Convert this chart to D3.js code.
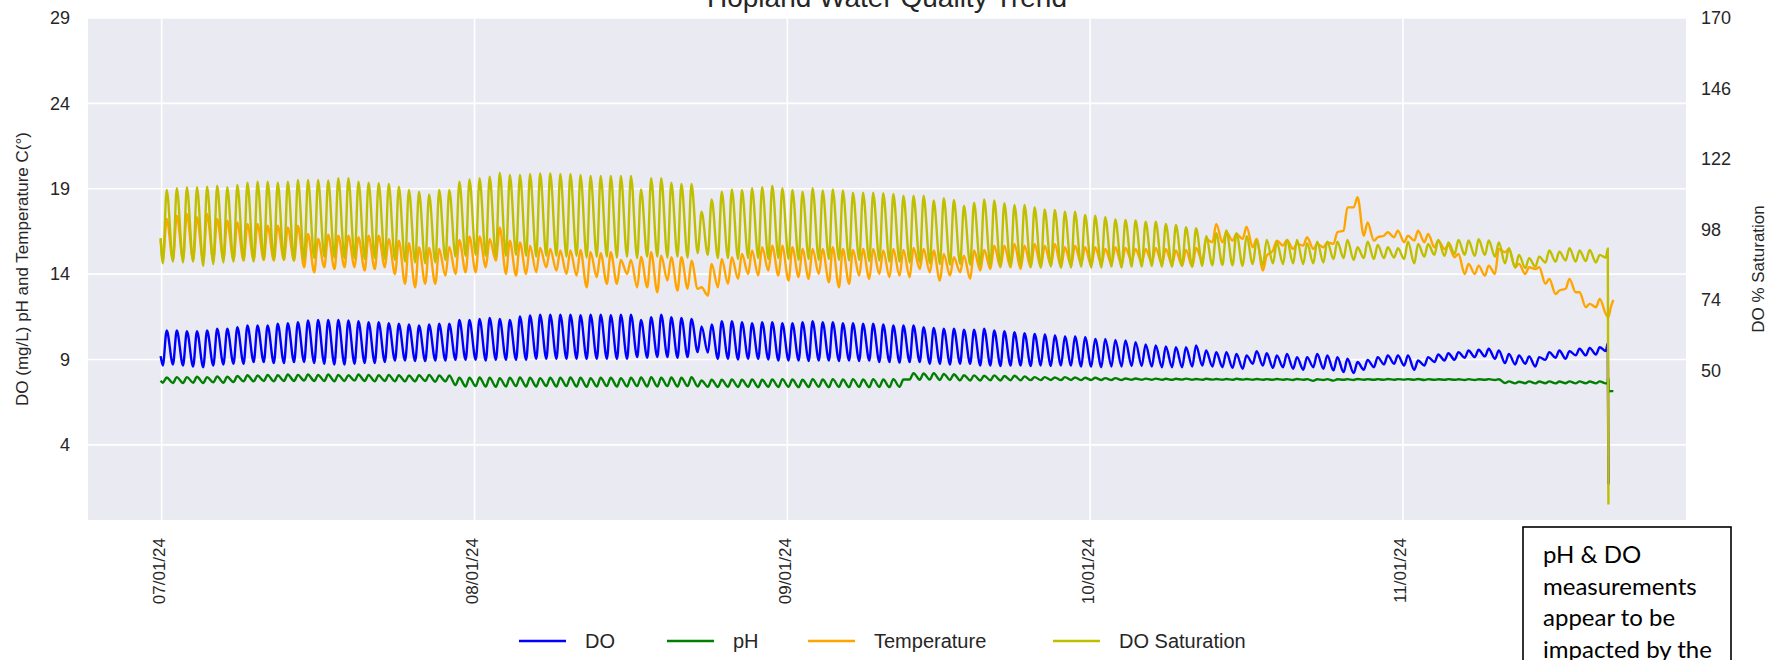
<!DOCTYPE html>
<html>
<head>
<meta charset="utf-8">
<script src="https://cdn.jsdelivr.net/npm/d3@7"></script>
<style>
  body { margin: 0; background: #fff; }
  svg { display: block; font-family: "Liberation Sans", Arial, sans-serif; }
</style>
</head>
<body>
<div id="chart"></div>
<script>
// ---- data (one low and one high per day from 07/01/24) ----
var startDate = Date.UTC(2024, 6, 1);

var doHigh = [
  10.70, 10.70, 10.66, 10.66, 10.70, 10.80, 10.80, 10.89, 10.99, 10.99,
  10.99, 11.09, 11.13, 11.19, 11.28, 11.32, 11.32, 11.32, 11.28, 11.24,
  11.19, 11.19, 11.13, 11.09, 11.05, 10.99, 11.05, 11.09, 11.09, 11.32,
  11.32, 11.38, 11.44, 11.38, 11.32, 11.52, 11.58, 11.63, 11.63, 11.63,
  11.63, 11.60, 11.63, 11.63, 11.60, 11.63, 11.63, 11.32, 11.48, 11.63,
  11.48, 11.44, 11.38, 10.93, 11.05, 11.24, 11.24, 11.19, 11.13, 11.19,
  11.19, 11.13, 11.13, 11.19, 11.24, 11.19, 11.19, 11.13, 11.13, 11.09,
  11.09, 11.05, 10.99, 10.99, 10.99, 10.89, 10.85, 10.80, 10.80, 10.74,
  10.74, 10.80, 10.70, 10.66, 10.60, 10.54, 10.50, 10.46, 10.41, 10.35,
  10.35, 10.31, 10.21, 10.21, 10.15, 10.11, 10.02, 9.88, 9.82, 9.76,
  9.72, 9.72, 9.82, 9.53, 9.43, 9.43, 9.33, 9.24, 9.49, 9.37,
  9.24, 9.33, 9.14, 9.14, 9.33, 9.24, 9.14, 9.04, 8.85, 8.98,
  9.14, 9.24, 9.24, 9.24, 8.94, 9.14, 9.29, 9.37, 9.43, 9.53,
  9.57, 9.63, 9.53, 9.33, 9.24, 9.18, 9.14, 9.43, 9.53, 9.49,
  9.63, 9.68, 9.72
];
var doLow = [
  8.65, 8.71, 8.65, 8.59, 8.55, 8.65, 8.71, 8.75, 8.75, 8.85,
  8.85, 8.79, 8.79, 8.85, 8.85, 8.79, 8.75, 8.71, 8.71, 8.75,
  8.79, 8.79, 8.85, 8.94, 8.94, 8.91, 8.91, 8.94, 8.94, 8.98,
  8.98, 8.98, 8.94, 8.98, 8.98, 8.98, 8.98, 9.04, 9.04, 9.04,
  9.04, 9.04, 9.04, 9.04, 9.04, 9.04, 9.04, 9.14, 9.10, 9.14,
  9.14, 9.10, 9.14, 9.43, 9.40, 9.04, 9.04, 9.00, 9.04, 9.04,
  9.00, 8.94, 8.94, 8.94, 8.91, 8.94, 8.94, 8.91, 8.94, 8.91,
  8.94, 8.85, 8.85, 8.82, 8.85, 8.85, 8.75, 8.75, 8.71, 8.75,
  8.75, 8.65, 8.65, 8.62, 8.65, 8.65, 8.62, 8.65, 8.62, 8.65,
  8.65, 8.59, 8.59, 8.55, 8.59, 8.59, 8.62, 8.62, 8.59, 8.55,
  8.55, 8.55, 8.59, 8.65, 8.59, 8.55, 8.51, 8.46, 8.75, 8.65,
  8.51, 8.55, 8.46, 8.40, 8.55, 8.46, 8.36, 8.26, 8.20, 8.40,
  8.55, 8.71, 8.75, 8.65, 8.40, 8.65, 8.85, 8.94, 8.98, 9.10,
  9.14, 9.18, 9.04, 8.79, 8.71, 8.75, 8.59, 8.98, 9.10, 9.04,
  9.24, 9.24, 9.29
];
var doHead = [[-0.1, 9.2]];
var doTail = [[143.1, 9.5], [143.3, 9.95], [143.36, 1.7]];

var phHigh = [
  7.95, 7.97, 7.97, 7.99, 7.97, 8.01, 7.99, 8.03, 8.08, 8.06,
  8.10, 8.08, 8.12, 8.10, 8.12, 8.10, 8.12, 8.10, 8.08, 8.12,
  8.10, 8.08, 8.10, 8.08, 8.06, 8.08, 8.10, 8.06, 8.06, 7.93,
  7.93, 7.95, 7.93, 7.91, 7.93, 7.95, 7.93, 7.91, 7.93, 7.93,
  7.95, 7.93, 7.91, 7.93, 7.93, 7.91, 7.93, 7.95, 7.97, 7.93,
  7.95, 7.93, 7.97, 7.77, 7.81, 7.81, 7.83, 7.81, 7.83, 7.81,
  7.83, 7.85, 7.83, 7.81, 7.85, 7.83, 7.85, 7.83, 7.85, 7.83,
  7.85, 7.83, 7.85, 7.83, 8.20, 8.18, 8.20, 8.16, 8.14, 8.08,
  8.07, 8.05, 8.07, 8.03, 8.05, 8.01, 7.97, 7.97, 7.95, 7.97,
  7.95, 7.93, 7.93, 7.91, 7.91, 7.89, 7.89, 7.88, 7.88, 7.87,
  7.87, 7.88, 7.86, 7.87, 7.86, 7.86, 7.87, 7.86, 7.86, 7.85,
  7.86, 7.85, 7.86, 7.85, 7.84, 7.85, 7.84, 7.85, 7.86, 7.85,
  7.85, 7.86, 7.85, 7.85, 7.86, 7.85, 7.84, 7.85, 7.84, 7.85,
  7.84, 7.85, 7.84, 7.72, 7.70, 7.72, 7.71, 7.72, 7.71, 7.72,
  7.72, 7.71, 7.72
];
var phLow = [
  7.64, 7.62, 7.62, 7.64, 7.62, 7.66, 7.64, 7.68, 7.72, 7.72,
  7.74, 7.72, 7.74, 7.74, 7.76, 7.74, 7.74, 7.72, 7.74, 7.76,
  7.74, 7.72, 7.74, 7.72, 7.72, 7.72, 7.74, 7.70, 7.72, 7.50,
  7.42, 7.44, 7.42, 7.40, 7.42, 7.44, 7.42, 7.42, 7.44, 7.42,
  7.44, 7.42, 7.40, 7.42, 7.44, 7.42, 7.42, 7.44, 7.42, 7.42,
  7.44, 7.42, 7.44, 7.42, 7.40, 7.39, 7.40, 7.39, 7.40, 7.38,
  7.40, 7.39, 7.40, 7.38, 7.39, 7.40, 7.38, 7.39, 7.38, 7.39,
  7.38, 7.39, 7.38, 7.40, 7.83, 7.81, 7.82, 7.80, 7.80, 7.78,
  7.77, 7.77, 7.78, 7.77, 7.78, 7.78, 7.79, 7.79, 7.80, 7.79,
  7.80, 7.79, 7.80, 7.80, 7.80, 7.80, 7.81, 7.81, 7.81, 7.81,
  7.81, 7.82, 7.81, 7.81, 7.82, 7.81, 7.81, 7.82, 7.81, 7.81,
  7.81, 7.81, 7.80, 7.81, 7.75, 7.80, 7.76, 7.81, 7.80, 7.81,
  7.81, 7.81, 7.81, 7.82, 7.81, 7.80, 7.81, 7.81, 7.81, 7.80,
  7.80, 7.81, 7.80, 7.62, 7.60, 7.61, 7.60, 7.61, 7.60, 7.61,
  7.60, 7.61, 7.60
];
var phHead = [[-0.1, 7.75]];
var phTail = [[143.1, 7.6], [143.3, 7.6], [143.32, 7.95], [143.34, 7.2], [143.36, 7.9], [143.38, 7.1], [143.5, 7.15], [143.85, 7.15]];

var tempHigh = [
  17.23, 17.42, 17.52, 17.33, 17.52, 17.23, 17.13, 17.03, 16.94, 16.94,
  16.84, 16.84, 16.74, 16.84, 16.35, 16.06, 16.31, 16.25, 16.25, 16.16,
  16.25, 16.25, 16.06, 15.96, 15.81, 15.57, 15.53, 15.47, 15.61, 16.00,
  16.20, 16.20, 16.06, 16.74, 15.96, 15.86, 15.67, 15.53, 15.47, 15.38,
  15.38, 15.42, 15.28, 15.22, 15.28, 14.83, 14.83, 15.00, 15.28, 15.08,
  14.99, 14.99, 14.79, 13.23, 14.60, 14.89, 14.99, 15.18, 15.38, 15.57,
  15.67, 15.67, 15.57, 15.47, 15.47, 15.47, 15.57, 15.47, 15.42, 15.47,
  15.47, 15.38, 15.47, 15.42, 15.53, 15.47, 15.38, 15.18, 14.99, 15.08,
  15.38, 15.42, 15.67, 15.67, 15.77, 15.67, 15.77, 15.67, 15.77, 15.57,
  15.67, 15.57, 15.57, 15.47, 15.57, 15.53, 15.47, 15.47, 15.53, 15.47,
  15.38, 15.42, 15.53, 16.06, 16.94, 16.45, 16.35, 16.78, 16.06, 15.08,
  15.96, 16.00, 15.77, 16.16, 15.77, 15.86, 16.45, 17.91, 18.50, 17.03,
  16.16, 16.45, 16.55, 16.25, 16.55, 16.35, 15.96, 15.67, 15.18, 14.60,
  14.50, 14.50, 15.47, 15.47, 14.60, 14.40, 14.40, 13.72, 13.04, 13.72,
  12.94, 12.26, 12.55
];
var tempLow = [
  14.83, 14.83, 14.89, 14.83, 14.79, 14.83, 14.89, 14.83, 14.79, 14.83,
  14.83, 14.79, 14.83, 14.79, 14.40, 14.11, 14.40, 14.30, 14.40, 14.40,
  14.21, 14.30, 14.40, 14.01, 13.43, 13.23, 13.43, 13.43, 13.91, 14.01,
  14.11, 14.11, 14.40, 14.79, 14.01, 13.91, 14.01, 14.11, 14.40, 14.21,
  14.01, 13.91, 13.23, 13.82, 13.43, 13.43, 14.01, 13.23, 13.23, 12.94,
  13.62, 13.04, 13.14, 13.14, 12.75, 13.23, 13.43, 13.72, 14.01, 13.91,
  14.21, 13.91, 13.62, 13.82, 13.72, 14.01, 13.52, 13.23, 13.43, 13.91,
  13.72, 14.01, 13.82, 13.91, 13.82, 14.30, 14.11, 13.62, 13.91, 14.11,
  13.72, 14.21, 14.30, 14.40, 14.40, 14.30, 14.40, 14.40, 14.50, 14.40,
  14.50, 14.60, 14.50, 14.60, 14.60, 14.56, 14.79, 14.69, 14.69, 14.60,
  14.56, 14.50, 14.44, 14.79, 15.86, 15.86, 15.96, 16.06, 15.57, 14.21,
  15.38, 15.67, 15.47, 15.67, 15.47, 15.57, 15.77, 16.55, 17.91, 16.25,
  15.96, 16.25, 16.16, 15.86, 15.96, 15.86, 15.57, 15.47, 14.99, 14.01,
  14.01, 13.91, 14.01, 15.28, 14.40, 14.01, 14.30, 13.43, 12.84, 13.14,
  12.94, 12.06, 12.06
];
var tempHead = [[-0.1, 16.06]];
var tempTail = [[143.1, 11.67], [143.35, 11.48], [143.6, 12.06], [143.85, 12.49]];

var satHigh = [
  111.5, 112.1, 112.4, 112.4, 112.6, 112.9, 112.4, 113.2, 114.0, 114.3,
  114.3, 114.0, 114.3, 114.9, 114.9, 114.9, 114.7, 115.5, 115.5, 114.3,
  114.0, 113.8, 113.5, 112.6, 111.5, 110.9, 110.0, 111.5, 111.5, 114.3,
  115.1, 115.5, 116.0, 117.4, 116.6, 116.6, 116.9, 117.2, 117.2, 116.9,
  116.9, 116.6, 116.3, 116.3, 116.3, 116.3, 116.3, 111.7, 115.5, 115.5,
  114.0, 113.5, 113.5, 104.1, 108.3, 110.9, 111.7, 111.5, 112.1, 112.4,
  112.9, 112.1, 111.5, 110.9, 112.1, 111.3, 111.7, 111.3, 110.6, 110.6,
  110.6, 110.4, 110.1, 109.5, 109.5, 109.5, 107.9, 108.7, 108.1, 106.1,
  107.2, 108.3, 107.9, 107.0, 106.4, 106.4, 105.6, 104.9, 104.7, 104.1,
  104.1, 103.0, 102.7, 102.2, 101.5, 101.3, 101.1, 100.7, 100.7, 99.9,
  99.6, 98.8, 98.5, 95.8, 96.8, 97.7, 96.8, 95.8, 94.3, 94.5,
  93.6, 94.5, 94.5, 93.4, 93.9, 93.9, 93.9, 94.5, 92.0, 93.9,
  92.8, 92.0, 91.7, 93.9, 93.1, 93.1, 94.5, 93.6, 94.5, 94.3,
  94.7, 94.3, 93.6, 91.7, 89.4, 88.3, 88.8, 90.9, 90.5, 91.7,
  90.9, 91.1, 89.4
];
var satLow = [
  86.5, 87.1, 86.8, 87.1, 85.6, 86.3, 86.8, 87.1, 87.7, 87.1,
  87.7, 87.7, 87.9, 87.5, 87.7, 88.3, 88.8, 88.5, 88.3, 88.3,
  88.0, 88.3, 88.0, 87.7, 87.1, 86.8, 86.5, 86.8, 87.7, 88.8,
  89.0, 89.4, 89.0, 88.8, 89.0, 89.4, 89.0, 88.8, 89.0, 89.0,
  88.8, 89.0, 88.5, 88.8, 88.8, 88.5, 88.8, 88.3, 88.8, 88.8,
  88.5, 88.8, 88.5, 90.0, 89.4, 88.3, 88.3, 88.0, 88.3, 88.3,
  88.0, 88.3, 88.0, 87.7, 88.0, 87.7, 88.0, 87.7, 87.5, 87.7,
  87.3, 87.5, 87.1, 87.1, 86.8, 86.8, 86.5, 86.3, 86.0, 86.3,
  86.0, 85.6, 85.9, 85.6, 85.4, 85.6, 85.4, 85.1, 85.4, 85.1,
  85.1, 85.4, 85.1, 85.1, 85.4, 85.1, 85.4, 85.4, 85.6, 85.4,
  85.4, 85.6, 85.4, 85.6, 85.9, 86.0, 85.9, 85.6, 86.3, 85.9,
  86.5, 86.3, 86.5, 86.3, 86.5, 86.8, 88.0, 88.3, 87.7, 88.3,
  88.0, 88.3, 88.5, 88.0, 86.5, 88.8, 89.4, 89.0, 89.7, 89.4,
  89.0, 89.4, 88.8, 86.5, 85.1, 84.9, 85.4, 86.8, 87.1, 87.5,
  87.1, 87.3, 86.8
];
var satHead = [[-0.1, 95.1]];
var satTail = [[143.1, 88.5], [143.3, 91.5], [143.36, 4.5]];

var monthTicks = ["2024-07-01", "2024-08-01", "2024-09-01", "2024-10-01", "2024-11-01"];
var leftTicks = [4, 9, 14, 19, 24, 29];
var rightTicks = [50, 74, 98, 122, 146, 170];

var seriesNames = ["DO", "pH", "Temperature", "DO Saturation"];
var seriesColors = ["#0000ff", "#008000", "#ffa500", "#bfbf00"];

var noteLines = ["pH & DO", "measurements", "appear to be", "impacted by the"];

// ---- layout ----
var width = 1777;
var height = 660;
var marginTop = 18;
var marginRight = 91;
var marginBottom = 140;
var marginLeft = 88;

// turn head + daily low/high + tail into points (low early in the day, high around midday)
function buildPoints(head, low, high, tail) {
    var pts = head.map(function(p) { return {t: p[0], v: p[1]}; });
    low.forEach(function(lo, i) {
        pts.push({t: i + 0.12, v: lo});
        pts.push({t: i + 0.5, v: high[i]});
    });
    tail.forEach(function(p) { pts.push({t: p[0], v: p[1]}); });
    return pts.map(function(p) { return {date: new Date(startDate + p.t * 864e5), v: p.v}; });
}

var doPts = buildPoints(doHead, doLow, doHigh, doTail);
var phPts = buildPoints(phHead, phLow, phHigh, phTail);
var tempPts = buildPoints(tempHead, tempLow, tempHigh, tempTail);
var satPts = buildPoints(satHead, satLow, satHigh, satTail);

var svg = d3.select("#chart").append("svg")
    .attr("width", width)
    .attr("height", height);

// x scale: data extent plus 5% padding each side
var allDates = doPts.concat(phPts, tempPts, satPts).map(function(d) { return d.date; });
var ext = d3.extent(allDates);
var pad = (ext[1] - ext[0]) * 0.05;
var x = d3.scaleUtc()
    .domain([new Date(+ext[0] - pad), new Date(+ext[1] + pad)])
    .range([marginLeft, width - marginRight]);

var yLeft = d3.scaleLinear()
    .domain([-0.4, 29])
    .range([height - marginBottom, marginTop]);

var yRight = d3.scaleLinear()
    .domain([-0.8, 170])
    .range([height - marginBottom, marginTop]);

// plot background
svg.append("rect")
    .attr("x", marginLeft)
    .attr("y", marginTop)
    .attr("width", width - marginLeft - marginRight)
    .attr("height", height - marginTop - marginBottom)
    .attr("fill", "#eaeaf2");

var tickDates = monthTicks.map(function(s) { return new Date(s + "T00:00:00Z"); });

// grid lines
svg.append("g")
    .selectAll("line.h")
    .data(leftTicks)
    .join("line")
    .attr("x1", marginLeft)
    .attr("x2", width - marginRight)
    .attr("y1", function(d) { return yLeft(d); })
    .attr("y2", function(d) { return yLeft(d); })
    .attr("stroke", "#fff")
    .attr("stroke-width", 1.6);

svg.append("g")
    .selectAll("line.v")
    .data(tickDates)
    .join("line")
    .attr("x1", function(d) { return x(d); })
    .attr("x2", function(d) { return x(d); })
    .attr("y1", marginTop)
    .attr("y2", height - marginBottom)
    .attr("stroke", "#fff")
    .attr("stroke-width", 1.6);

// x axis
var gx = svg.append("g")
    .attr("transform", "translate(0," + (height - marginBottom) + ")")
    .call(d3.axisBottom(x).tickValues(tickDates).tickFormat(d3.utcFormat("%m/%d/%y")).tickSize(0));
gx.select(".domain").remove();
gx.selectAll("text")
    .attr("transform", "rotate(-90)")
    .attr("text-anchor", "end")
    .attr("x", -18)
    .attr("y", -3)
    .attr("dy", "0.35em")
    .attr("fill", "#262626")
    .style("font-size", "17px")
    .style("font-family", "'Liberation Sans', Arial, sans-serif");

// left axis
var gy = svg.append("g")
    .attr("transform", "translate(" + marginLeft + ",0)")
    .call(d3.axisLeft(yLeft).tickValues(leftTicks).tickSize(0).tickPadding(18));
gy.select(".domain").remove();
gy.selectAll("text")
    .attr("fill", "#262626")
    .style("font-size", "18px")
    .style("font-family", "'Liberation Sans', Arial, sans-serif");

// right axis
var gr = svg.append("g")
    .attr("transform", "translate(" + (width - marginRight) + ",0)")
    .call(d3.axisRight(yRight).tickValues(rightTicks).tickSize(0).tickPadding(15));
gr.select(".domain").remove();
gr.selectAll("text")
    .attr("fill", "#262626")
    .style("font-size", "18px")
    .style("font-family", "'Liberation Sans', Arial, sans-serif");

// lines
var lineLeft = d3.line()
    .x(function(d) { return x(d.date); })
    .y(function(d) { return yLeft(d.v); })
    .curve(d3.curveMonotoneX);
var lineRight = d3.line()
    .x(function(d) { return x(d.date); })
    .y(function(d) { return yRight(d.v); })
    .curve(d3.curveMonotoneX);

svg.append("path").datum(doPts).attr("d", lineLeft)
    .attr("fill", "none").attr("stroke", seriesColors[0]).attr("stroke-width", 2.4);
svg.append("path").datum(phPts).attr("d", lineLeft)
    .attr("fill", "none").attr("stroke", seriesColors[1]).attr("stroke-width", 2.4);
svg.append("path").datum(tempPts).attr("d", lineLeft)
    .attr("fill", "none").attr("stroke", seriesColors[2]).attr("stroke-width", 2.4);
svg.append("path").datum(satPts).attr("d", lineRight)
    .attr("fill", "none").attr("stroke", seriesColors[3]).attr("stroke-width", 2.4);

// axis titles
svg.append("text")
    .attr("transform", "translate(28," + ((marginTop + height - marginBottom) / 2) + ") rotate(-90)")
    .attr("text-anchor", "middle")
    .attr("fill", "#262626")
    .style("font-size", "17px")
    .text("DO (mg/L) pH and Temperature C(°)");

svg.append("text")
    .attr("transform", "translate(1764," + ((marginTop + height - marginBottom) / 2) + ") rotate(-90)")
    .attr("text-anchor", "middle")
    .attr("fill", "#262626")
    .style("font-size", "17px")
    .text("DO % Saturation");

// title (top is cut off in the source image)
svg.append("text")
    .attr("x", (marginLeft + width - marginRight) / 2)
    .attr("y", 7)
    .attr("text-anchor", "middle")
    .attr("fill", "#262626")
    .style("font-size", "28px")
    .text("Hopland Water Quality Trend");

// legend
var legendX = [519, 667, 808, 1053];
var legend = svg.append("g").attr("transform", "translate(0,641)");
var items = legend.selectAll("g")
    .data(seriesNames)
    .join("g")
    .attr("transform", function(d, i) { return "translate(" + legendX[i] + ",0)"; });
items.append("line")
    .attr("x1", 0).attr("x2", 47)
    .attr("stroke", function(d, i) { return seriesColors[i]; })
    .attr("stroke-width", 2.4);
items.append("text")
    .attr("x", 66)
    .attr("dy", "0.35em")
    .attr("fill", "#262626")
    .style("font-size", "20px")
    .text(function(d) { return d; });

// note box
var note = svg.append("g");
note.append("rect")
    .attr("x", 1523).attr("y", 527)
    .attr("width", 208).attr("height", 200)
    .attr("fill", "#fff")
    .attr("stroke", "#000")
    .attr("stroke-width", 1.6);
note.selectAll("text")
    .data(noteLines)
    .join("text")
    .attr("x", 1543)
    .attr("y", function(d, i) { return 563 + i * 31.5; })
    .attr("fill", "#000")
    .style("font-family", "Lato, 'Open Sans', sans-serif")
    .style("font-size", "24px")
    .text(function(d) { return d; });
</script>
</body>
</html>
